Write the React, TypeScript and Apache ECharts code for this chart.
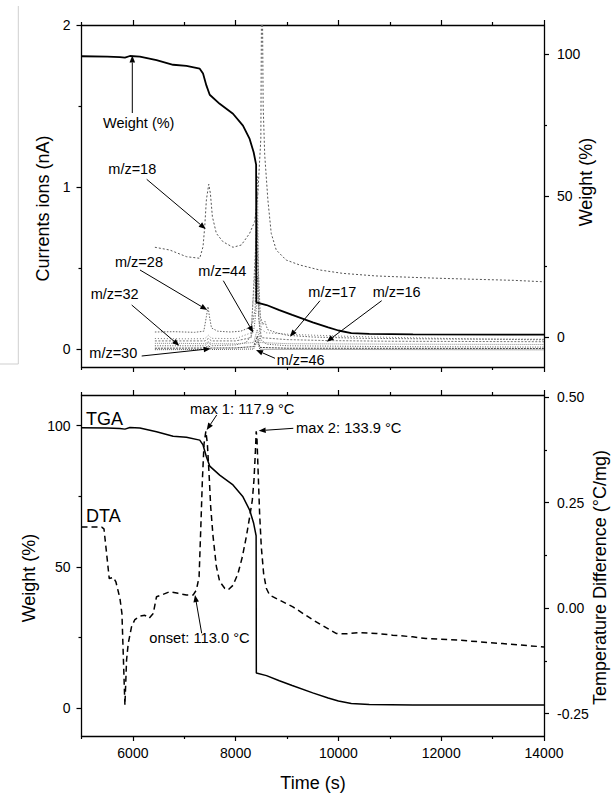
import React, { useEffect, useRef } from "react";
import * as echarts from "echarts";

const FONT = "'Liberation Sans', Arial, Helvetica, sans-serif";

// ---- data (time in s) ----
const weightData: [number, number][] = [
  [5000, 99.3], [5500, 99.2], [5748, 99.0], [5845, 98.8], [5942, 99.4], [6136, 99.2],
  [6460, 97.9], [6783, 96.3], [7042, 95.9], [7301, 94.9], [7365, 93.2], [7430, 89.0],
  [7495, 85.7], [7689, 82.5], [7948, 79.0], [8142, 74.8], [8272, 70.1], [8350, 65.4],
  [8398, 61.0], [8402, 12.3], [8600, 11.4], [8850, 9.6], [9100, 7.9], [9500, 5.3],
  [9800, 3.5], [10000, 2.4], [10250, 1.5], [10600, 1.2], [11450, 1.0], [14000, 0.95],
];

const dtaData: [number, number][] = [
  [5000, 0.192], [5392, 0.192], [5437, 0.188], [5489, 0.129], [5540, 0.07], [5618, 0.073],
  [5670, 0.062], [5748, 0.023], [5787, -0.013], [5810, -0.1], [5845, -0.23], [5877, -0.123],
  [5909, -0.084], [5974, -0.044], [6039, -0.027], [6136, -0.019], [6233, -0.017], [6317, -0.024],
  [6395, -0.013], [6460, 0.027], [6557, 0.031], [6718, 0.039], [6880, 0.035], [7042, 0.031],
  [7171, 0.031], [7236, 0.043], [7288, 0.074], [7320, 0.185], [7352, 0.303], [7385, 0.39],
  [7420, 0.419], [7449, 0.39], [7482, 0.319], [7514, 0.24], [7560, 0.17], [7624, 0.099],
  [7689, 0.063], [7786, 0.047], [7851, 0.043], [7948, 0.054], [8045, 0.082], [8129, 0.121],
  [8207, 0.169], [8272, 0.216], [8324, 0.256], [8356, 0.303], [8382, 0.366], [8400, 0.419],
  [8415, 0.4], [8434, 0.334], [8466, 0.224], [8499, 0.145], [8544, 0.082], [8596, 0.047],
  [8660, 0.031], [9114, 0.003], [9503, -0.028], [9955, -0.06], [10149, -0.061], [10408, -0.058],
  [10732, -0.06], [11055, -0.064], [11443, -0.068], [11702, -0.072], [12348, -0.076],
  [13190, -0.084], [14000, -0.092],
];

const mz18: [number, number][] = [
  [6428, 0.628], [6718, 0.611], [7042, 0.57], [7301, 0.56], [7365, 0.632], [7398, 0.755],
  [7430, 0.92], [7476, 1.017], [7508, 0.961], [7547, 0.817], [7624, 0.714], [7754, 0.662],
  [7948, 0.628], [8110, 0.642], [8272, 0.714], [8369, 0.786], [8430, 0.95], [8490, 1.3],
  [8510, 2.6], [8535, 1.5], [8565, 1.2], [8627, 0.92], [8692, 0.714], [8790, 0.611],
  [8984, 0.549], [9243, 0.519], [9631, 0.488], [10083, 0.467], [10731, 0.451], [11378, 0.443],
  [12025, 0.436], [12700, 0.43], [13400, 0.424], [14000, 0.415],
];
const mz28: [number, number][] = [
  [6428, 0.105], [6800, 0.107], [7200, 0.103], [7380, 0.11], [7430, 0.2], [7462, 0.262],
  [7490, 0.2], [7530, 0.13], [7650, 0.11], [7900, 0.105], [8100, 0.11], [8250, 0.13],
  [8330, 0.16], [8380, 0.25], [8410, 0.95], [8440, 0.5], [8480, 0.2], [8530, 0.15],
  [8570, 0.17], [8620, 0.12], [8800, 0.1], [9000, 0.085], [9500, 0.074], [10500, 0.066],
  [12000, 0.062], [14000, 0.06],
];
const mz17: [number, number][] = [
  [6428, 0.065], [7000, 0.063], [7400, 0.064], [7470, 0.085], [7530, 0.066], [8000, 0.064],
  [8300, 0.1], [8400, 0.6], [8425, 1.07], [8450, 0.3], [8500, 0.12], [8600, 0.1],
  [9100, 0.09], [10000, 0.08], [11000, 0.072], [12500, 0.063], [14000, 0.056],
];
const mz16: [number, number][] = [
  [6428, 0.05], [7400, 0.05], [7470, 0.065], [7530, 0.05], [8000, 0.05], [8300, 0.07],
  [8415, 0.8], [8445, 0.2], [8500, 0.07], [9000, 0.058], [9792, 0.052], [11000, 0.048],
  [14000, 0.045],
];
const mz32: [number, number][] = [
  [6428, 0.035], [6900, 0.035], [7400, 0.033], [7470, 0.045], [7530, 0.033], [8000, 0.032],
  [8350, 0.04], [8420, 0.12], [8480, 0.04], [9000, 0.033], [11000, 0.03], [14000, 0.028],
];
const mz44: [number, number][] = [
  [6428, 0.02], [7400, 0.02], [7470, 0.04], [7530, 0.02], [8000, 0.025], [8200, 0.04],
  [8300, 0.08], [8360, 0.13], [8400, 0.25], [8425, 0.45], [8450, 0.2], [8480, 0.06],
  [8600, 0.03], [9000, 0.02], [11000, 0.015], [14000, 0.012],
];
const mz30: [number, number][] = [
  [6428, 0.005], [7400, 0.006], [7470, 0.02], [7530, 0.006], [8000, 0.007], [8350, 0.015],
  [8420, 0.08], [8470, 0.01], [9000, 0.005], [14000, 0.003],
];
const mz46: [number, number][] = [
  [6428, -0.004], [7400, -0.003], [7470, 0.008], [7530, -0.003], [8350, 0.0], [8420, 0.05],
  [8470, -0.002], [14000, -0.005],
];

// ---- ticks ----
const timeMajor = [6000, 8000, 10000, 12000, 14000];
const timeMinor = [5000, 7000, 9000, 11000, 13000];
const currentMajor = [0, 1, 2];
const currentMinor = [0.5, 1.5];
const weightMajor = [0, 50, 100];
const weightMinor = [25, 75];
const dtaMajor = [-0.25, 0, 0.25, 0.5];
const dtaMinor = [-0.125, 0.125, 0.375];

const BLACK = "#000";

function xAx(gridIndex: number, position: string, ticks: number[], len: number, line: boolean, labels: boolean) {
  return {
    type: "value", gridIndex, position, min: 5000, max: 14000,
    axisLine: { show: line, onZero: false, lineStyle: { color: BLACK, width: 1.3 } },
    axisTick: { show: true, customValues: ticks, length: len, lineStyle: { color: BLACK, width: 1.2 } },
    axisLabel: {
      show: labels, customValues: ticks, color: BLACK, fontSize: 14, fontFamily: FONT, margin: 10,
      formatter: (v: number) => String(v),
    },
    splitLine: { show: false },
  };
}
function yAx(gridIndex: number, position: string, min: number, max: number, ticks: number[], len: number,
  line: boolean, labels: boolean, fmt?: (v: number) => string) {
  return {
    type: "value", gridIndex, position, min, max,
    axisLine: { show: line, onZero: false, lineStyle: { color: BLACK, width: 1.3 } },
    axisTick: { show: true, customValues: ticks, length: len, lineStyle: { color: BLACK, width: 1.2 } },
    axisLabel: {
      show: labels, customValues: ticks, color: BLACK, fontSize: 14, fontFamily: FONT,
      margin: position === "left" ? 11 : 13, formatter: fmt || ((v: number) => String(v)),
    },
    splitLine: { show: false },
  };
}

function arrow(x1: number, y1: number, x2: number, y2: number, head = 7, half = 2.8) {
  const a = Math.atan2(y2 - y1, x2 - x1);
  const bx = x2 - head * Math.cos(a), by = y2 - head * Math.sin(a);
  const px = -Math.sin(a) * half, py = Math.cos(a) * half;
  return [
    { type: "line", z: 100, silent: true, shape: { x1, y1, x2: bx, y2: by }, style: { stroke: BLACK, lineWidth: 1 } },
    { type: "polygon", z: 100, silent: true, shape: { points: [[x2, y2], [bx + px, by + py], [bx - px, by - py]] }, style: { fill: BLACK } },
  ];
}
function txt(text: string, x: number, y: number, size = 14.5, rotation = 0, align = "left") {
  return {
    type: "text", z: 100, silent: true, x, y, rotation,
    style: { text, fill: BLACK, fontSize: size, fontFamily: FONT, align, verticalAlign: "middle" },
  };
}

export default function App() {
  const ref = useRef<HTMLDivElement>(null);
  useEffect(() => {
    document.body.style.margin = "0";
    const chart = echarts.init(ref.current!, null, { renderer: "svg" });
    const mzStyle = (data: [number, number][], color: string, dash: number[], name: string) => ({
      type: "line", name, xAxisIndex: 0, yAxisIndex: 0, data, symbol: "none", showSymbol: false,
      lineStyle: { color, width: 1, type: dash }, z: 2,
    });
    const option: any = {
      animation: false,
      backgroundColor: "#fff",
      textStyle: { fontFamily: FONT },
      grid: [
        { left: 81.5, right: 67, top: 25, height: 342 },
        { left: 81.5, right: 67, top: 395, height: 341 },
      ],
      xAxis: [
        xAx(0, "bottom", timeMajor, 5, true, false),
        xAx(0, "bottom", timeMinor, 3, false, false),
        xAx(0, "top", timeMajor, 5, true, false),
        xAx(0, "top", timeMinor, 3, false, false),
        xAx(1, "bottom", timeMajor, 5, true, true),
        xAx(1, "bottom", timeMinor, 3, false, false),
        xAx(1, "top", timeMajor, 5, true, false),
        xAx(1, "top", timeMinor, 3, false, false),
      ],
      yAxis: [
        yAx(0, "left", -0.111, 2, currentMajor, 5, true, true),
        yAx(0, "left", -0.111, 2, currentMinor, 3, false, false),
        yAx(0, "right", -10.5, 110.35, weightMajor, 5, true, true),
        yAx(0, "right", -10.5, 110.35, weightMinor, 3, false, false),
        yAx(1, "left", -10, 110.9, weightMajor, 5, true, true),
        yAx(1, "left", -10, 110.9, weightMinor, 3, false, false),
        yAx(1, "right", -0.303, 0.505, dtaMajor, 5, true, true, (v: number) => v.toFixed(2)),
        yAx(1, "right", -0.303, 0.505, dtaMinor, 3, false, false),
      ],
      series: [
        mzStyle(mz46, "#555", [1, 1], "m/z=46"),
        mzStyle(mz30, "#444", [2, 1], "m/z=30"),
        mzStyle(mz44, "#555", [1, 1.5], "m/z=44"),
        mzStyle(mz32, "#888", [1, 1], "m/z=32"),
        mzStyle(mz16, "#777", [2, 1.5], "m/z=16"),
        mzStyle(mz17, "#777", [1, 2], "m/z=17"),
        mzStyle(mz28, "#666", [1.5, 1.5], "m/z=28"),
        mzStyle(mz18, "#555", [2, 2], "m/z=18"),
        {
          type: "line", name: "Weight", xAxisIndex: 0, yAxisIndex: 2, data: weightData,
          symbol: "none", lineStyle: { color: BLACK, width: 1.8 }, z: 5,
        },
        {
          type: "line", name: "TGA", xAxisIndex: 4, yAxisIndex: 4, data: weightData,
          symbol: "none", lineStyle: { color: BLACK, width: 1.5 }, z: 5,
        },
        {
          type: "line", name: "DTA", xAxisIndex: 4, yAxisIndex: 6, data: dtaData,
          symbol: "none", lineStyle: { color: BLACK, width: 1.5, type: [6, 4] }, z: 5,
        },
      ],
      graphic: {
        elements: [
          { type: "line", silent: true, shape: { x1: 18.3, y1: 6, x2: 18.3, y2: 364 }, style: { stroke: "#cfcfcf", lineWidth: 1 } },
          { type: "line", silent: true, shape: { x1: 0, y1: 364, x2: 18.3, y2: 364 }, style: { stroke: "#cfcfcf", lineWidth: 1 } },
          // axis titles
          txt("Currents ions (nA)", 43, 208.5, 18, Math.PI / 2, "center"),
          txt("Weight (%)", 586, 182, 18, Math.PI / 2, "center"),
          txt("Weight (%)", 29, 578, 18, Math.PI / 2, "center"),
          txt("Temperature Difference (°C/mg)", 600, 577.5, 18, Math.PI / 2, "center"),
          txt("Time (s)", 313, 783, 18, 0, "center"),
          // top annotations
          txt("Weight (%)", 103, 122.5),
          ...arrow(132.3, 113, 132.3, 55.5),
          txt("m/z=18", 108.3, 169),
          ...arrow(146.7, 179.3, 205.7, 229),
          txt("m/z=28", 115, 261.5),
          ...arrow(140, 270, 207.3, 310),
          txt("m/z=32", 90.7, 294),
          ...arrow(131.7, 305, 179.3, 345.7),
          txt("m/z=30", 89.3, 352.5),
          ...arrow(141.7, 356, 210.7, 348.7),
          txt("m/z=44", 198.3, 270.5),
          ...arrow(223.3, 280.7, 253.3, 332.7),
          txt("m/z=46", 276.7, 360),
          ...arrow(275, 358.3, 256, 350),
          txt("m/z=17", 308.3, 291.5),
          ...arrow(320, 300.7, 290, 336.7),
          txt("m/z=16", 372.7, 291.5),
          ...arrow(381.7, 300.7, 326.7, 341.7),
          // bottom annotations
          txt("TGA", 86, 418.5, 18),
          txt("DTA", 86, 516, 18),
          txt("max 1: 117.9 °C", 190, 408.5, 14.7),
          ...arrow(216.7, 415, 206.7, 430),
          txt("max 2: 133.9 °C", 296, 427.5, 14.7),
          ...arrow(293.3, 428.3, 258.7, 430.7),
          txt("onset: 113.0 °C", 149.3, 638, 14.7),
          ...arrow(201.7, 633.3, 195, 595),
        ],
      },
    };
    chart.setOption(option);
    return () => chart.dispose();
  }, []);
  return <div ref={ref} style={{ width: 611, height: 793 }} />;
}
